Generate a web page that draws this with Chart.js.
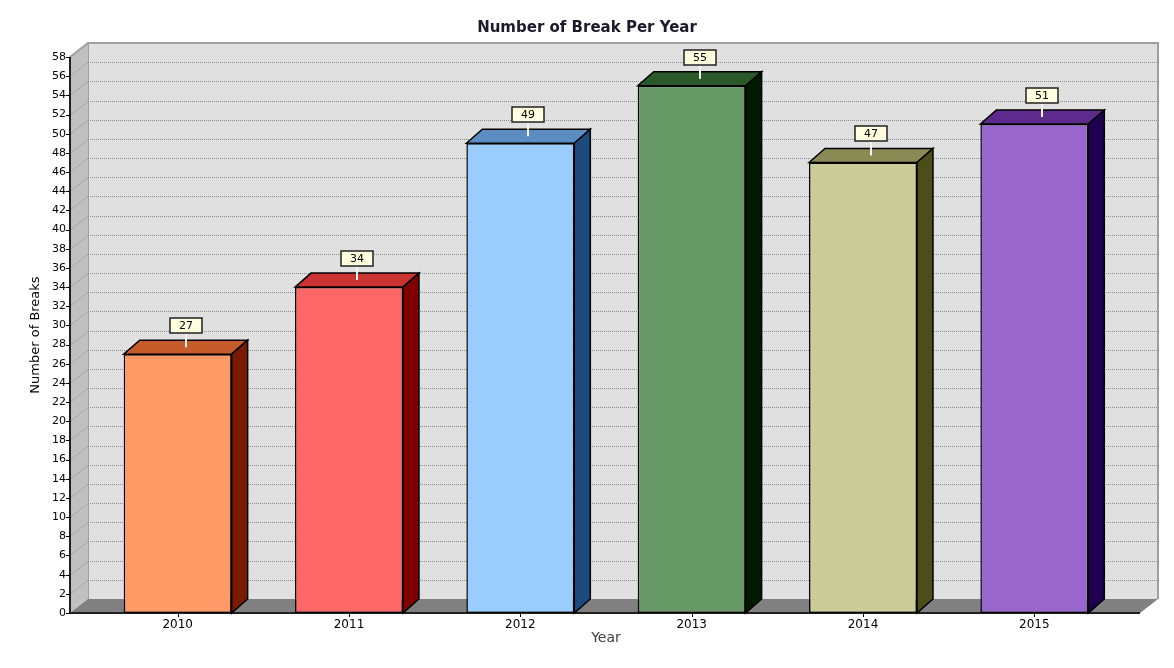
<!DOCTYPE html>
<html>
<head>
<meta charset="utf-8">
<title>Number of Break Per Year</title>
<script src="https://cdn.jsdelivr.net/npm/chart.js@4.4.0/dist/chart.umd.min.js"></script>
<style>
    html, body { margin: 0; padding: 0; background: #ffffff; }
    #wrap { width: 1174px; height: 668px; }
</style>
</head>
<body>
<div id="wrap"><canvas id="breakChart" width="1174" height="668"></canvas></div>
<script>
const years = ["2010", "2011", "2012", "2013", "2014", "2015"];
const breaks = [27, 34, 49, 55, 47, 51];
const yMin = 0;
const yMax = 58;
const yStep = 2;

const frontColors = ["#ff9966", "#ff6666", "#99ccff", "#669966", "#cccc99", "#9966cc"];
const topColors = ["#c65a28", "#cc3333", "#5b8cc2", "#2a5a2a", "#8a8a55", "#5e2a8e"];
const sideColors = ["#7a1a00", "#800000", "#1c4a7c", "#001a00", "#4d4d1a", "#1e0050"];

// depth of the walls and of the bars
const wallDx = 18, wallDy = 14;
const barDx = 16, barDy = 14;

function polygon(ctx, pts, fill, stroke) {
    ctx.beginPath();
    ctx.moveTo(pts[0][0], pts[0][1]);
    for (let i = 1; i < pts.length; i++) ctx.lineTo(pts[i][0], pts[i][1]);
    ctx.closePath();
    if (fill) { ctx.fillStyle = fill; ctx.fill(); }
    if (stroke) { ctx.strokeStyle = stroke; ctx.stroke(); }
}

const depthPlugin = {
    id: "depth3d",
    beforeDatasetsDraw(chart) {
        const ctx = chart.ctx;
        const area = chart.chartArea;
        const yScale = chart.scales.y;
        const xScale = chart.scales.x;
        const x0 = area.left - 22, x1 = area.right + 20;
        const top = area.top, base = area.bottom;

        ctx.save();
        // back wall
        ctx.fillStyle = "#e0e0e0";
        ctx.fillRect(x0 + wallDx, top - wallDy, x1 - x0, base - top);
        // left wall
        polygon(ctx, [[x0, base], [x0, top], [x0 + wallDx, top - wallDy], [x0 + wallDx, base - wallDy]], "#c0c0c0");

        // dotted grid lines
        ctx.setLineDash([1, 1]);
        ctx.strokeStyle = "#8c8c8c";
        ctx.lineWidth = 1;
        for (let v = yMin; v <= yMax; v += yStep) {
            const py = Math.round(yScale.getPixelForValue(v)) + 0.5;
            ctx.beginPath();
            ctx.moveTo(x0 + wallDx, py - wallDy);
            ctx.lineTo(x1 + wallDx, py - wallDy);
            ctx.moveTo(x0, py);
            ctx.lineTo(x0 + wallDx, py - wallDy);
            ctx.stroke();
        }
        ctx.setLineDash([]);

        // wall borders
        ctx.strokeStyle = "#a0a0a0";
        ctx.lineWidth = 2;
        ctx.beginPath();
        ctx.moveTo(x0, top);
        ctx.lineTo(x0 + wallDx, top - wallDy);
        ctx.lineTo(x1 + wallDx, top - wallDy);
        ctx.lineTo(x1 + wallDx, base - wallDy);
        ctx.stroke();
        ctx.lineWidth = 1;
        ctx.beginPath();
        ctx.moveTo(x0 + wallDx + 0.5, top - wallDy);
        ctx.lineTo(x0 + wallDx + 0.5, base - wallDy);
        ctx.stroke();

        // floor
        polygon(ctx, [[x0, base], [x0 + wallDx, base - wallDy], [x1 + wallDx, base - wallDy], [x1, base]], "#808080");

        // axes
        ctx.strokeStyle = "#202020";
        ctx.lineWidth = 2;
        ctx.beginPath();
        ctx.moveTo(x0, top);
        ctx.lineTo(x0, base);
        ctx.lineTo(x1, base);
        ctx.stroke();
        ctx.lineWidth = 1;
        ctx.strokeStyle = "#000000";
        ctx.beginPath();
        for (let v = yMin; v <= yMax; v += yStep) {
            const py = Math.round(yScale.getPixelForValue(v)) + 0.5;
            ctx.moveTo(x0 - 4, py);
            ctx.lineTo(x0, py);
        }
        years.forEach((yr, i) => {
            const px = Math.round(xScale.getPixelForValue(i)) + 0.5;
            ctx.moveTo(px, base);
            ctx.lineTo(px, base + 4);
        });
        ctx.stroke();
        ctx.restore();
    },
    afterDatasetsDraw(chart) {
        const ctx = chart.ctx;
        const meta = chart.getDatasetMeta(0);
        ctx.save();
        ctx.lineWidth = 1.5;
        ctx.lineJoin = "miter";
        meta.data.forEach((bar, i) => {
            const p = bar.getProps(["x", "y", "base", "width"], true);
            const l = p.x - p.width / 2, r = p.x + p.width / 2;
            ctx.lineWidth = 1.5;
            polygon(ctx, [[l, p.y], [l + barDx, p.y - barDy], [r + barDx, p.y - barDy], [r, p.y]], topColors[i], "#000000");
            polygon(ctx, [[r, p.y], [r + barDx, p.y - barDy], [r + barDx, p.base - barDy], [r, p.base]], sideColors[i], "#000000");

            // value label with leader line
            const cx = Math.round(p.x + barDx / 2);
            const cy = p.y - barDy / 2;
            ctx.strokeStyle = "#f4f4f4";
            ctx.lineWidth = 2;
            ctx.beginPath();
            ctx.moveTo(cx, cy);
            ctx.lineTo(cx, cy - 14);
            ctx.stroke();

            const bw = 32, bh = 15;
            const bx = cx - bw / 2, by = Math.round(cy - 14 - bh);
            ctx.fillStyle = "#ffffe0";
            ctx.fillRect(bx, by, bw, bh);
            ctx.strokeStyle = "#202020";
            ctx.lineWidth = 1.5;
            ctx.strokeRect(bx, by, bw, bh);
            ctx.fillStyle = "#000000";
            ctx.font = "11px 'DejaVu Sans', Verdana, sans-serif";
            ctx.textAlign = "center";
            ctx.textBaseline = "middle";
            ctx.fillText(String(breaks[i]), cx, by + bh / 2 + 0.5);
        });
        ctx.restore();
    }
};

Chart.defaults.font.family = "'DejaVu Sans', Verdana, sans-serif";
Chart.defaults.color = "#000000";

new Chart(document.getElementById("breakChart"), {
    type: "bar",
    data: {
        labels: years,
        datasets: [{
            label: "Number of Breaks",
            data: breaks,
            backgroundColor: frontColors,
            borderColor: "#000000",
            borderWidth: 1.5,
            borderSkipped: false,
            categoryPercentage: 1,
            barPercentage: 0.63
        }]
    },
    options: {
        responsive: false,
        animation: false,
        layout: {
            padding: 0
        },
        plugins: {
            legend: { display: false },
            tooltip: { enabled: false },
            title: {
                display: true,
                text: "Number of Break Per Year",
                color: "#1a1a2a",
                font: { size: 15, weight: "bold" },
                padding: { top: 19, bottom: 20 }
            }
        },
        scales: {
            x: {
                grid: { display: false, drawTicks: false },
                border: { display: false },
                ticks: { padding: 5, font: { size: 12 }, color: "#000000" },
                title: {
                    display: true,
                    text: "Year",
                    color: "#404040",
                    font: { size: 14 },
                    padding: { top: 0, bottom: 21 }
                },
                afterFit(scale) { scale.height = 55; }
            },
            y: {
                min: yMin,
                max: yMax,
                grid: { display: false, drawTicks: false },
                border: { display: false },
                ticks: { stepSize: yStep, padding: 26, font: { size: 11 }, color: "#000000" },
                title: {
                    display: true,
                    text: "Number of Breaks",
                    color: "#000000",
                    font: { size: 13 },
                    padding: { top: 28, bottom: 0 }
                },
                afterFit(scale) { scale.width = 92; }
            },
            // empty right axis keeps room for the 3D wall
            yRight: {
                position: "right",
                min: yMin,
                max: yMax,
                grid: { display: false, drawTicks: false },
                border: { display: false },
                ticks: { display: false },
                afterFit(scale) { scale.width = 54; }
            }
        }
    },
    plugins: [depthPlugin]
});
</script>
</body>
</html>
